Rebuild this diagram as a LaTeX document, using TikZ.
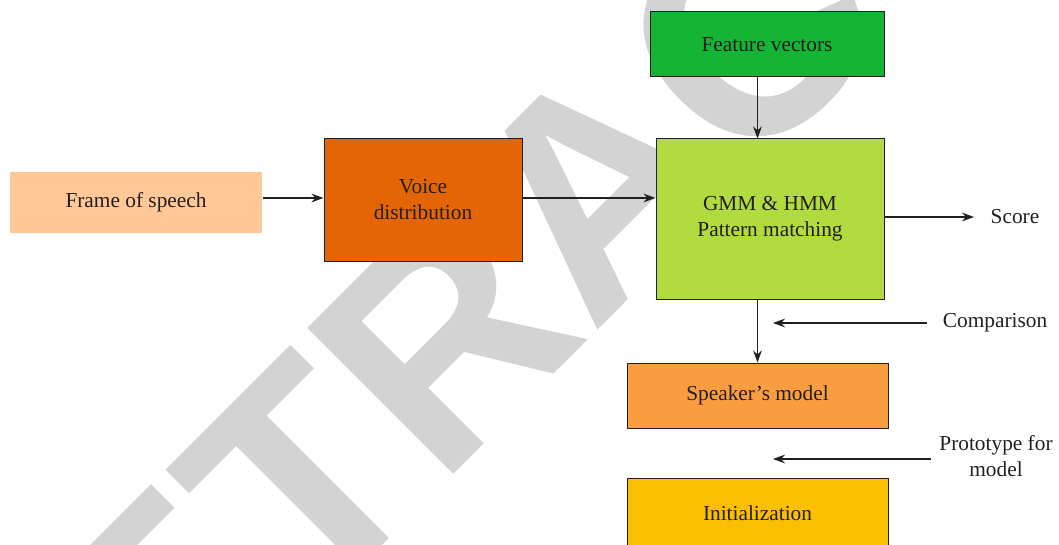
\documentclass[tikz,border=0pt]{standalone}
\usepackage{fontspec}
\setmainfont{Liberation Serif}
\newfontfamily\markfont{Liberation Sans}
\usetikzlibrary{arrows.meta}
\definecolor{framecol}{RGB}{255,200,150}
\definecolor{voicecol}{RGB}{227,101,4}
\definecolor{featcol}{RGB}{20,180,53}
\definecolor{gmmcol}{RGB}{178,219,63}
\definecolor{spkcol}{RGB}{250,157,65}
\definecolor{initcol}{RGB}{250,192,0}
\definecolor{markcol}{RGB}{211,211,211}
\definecolor{inkcol}{RGB}{35,31,32}

\begin{document}
\begin{tikzpicture}[x=0.75pt,y=-0.75pt,font=\fontsize{16}{19.5}\selectfont,
  box/.style={rectangle,draw=inkcol,line width=0.75pt,align=center,text=inkcol,inner sep=0pt},
  lbl/.style={align=center,text=inkcol},
  link/.style={->,draw=inkcol,line width=0.9pt},
  >={Stealth[length=9pt,width=6.5pt]}]
\useasboundingbox (0,0) rectangle (1059,545);
%Watermark
\begin{scope}
\clip (0,0) rectangle (1059,545);
\node at (15,913) [anchor=base west,rotate=45,inner sep=0pt,text=markcol,font=\markfont\bfseries\fontsize{225}{225}\selectfont] (Mark) {RETRACTED};
\end{scope}
%Boxes
\node at (136,202.5) [box,draw=none,fill=framecol,minimum width=189pt,minimum height=45.75pt] (Frame) {Frame of speech};
\node at (423,200) [box,fill=voicecol,minimum width=148.5pt,minimum height=91.5pt] (Voice) {Voice\\distribution};
\node at (767,44.5) [box,fill=featcol,minimum width=175.5pt,minimum height=48.75pt] (Feat) {Feature vectors};
\node at (770,219) [box,fill=gmmcol,minimum width=171pt,minimum height=120pt] (GMM) {GMM \& HMM\\Pattern matching};
\node at (757.5,395.5) [box,fill=spkcol,minimum width=195.75pt,minimum height=48.75pt] (Spk) {Speaker's model};
\node at (757.5,513) [box,fill=initcol,minimum width=195.75pt,minimum height=52.5pt] (Init) {Initialization};
%Labels
\node at (1015,217) [lbl] (Score) {Score};
\node at (995,323) [lbl] (Comp) {Comparison};
\node at (996,456) [lbl] (Proto) {Prototype for\\model};
\coordinate (Join) at (0,198);
\coordinate (CompEnd) at (773,323);
\coordinate (ProtoEnd) at (773,459);
%connections
\draw [link] (Frame.east |- Join) -- (Voice.west |- Join);
\draw [link] (Voice.east |- Join) -- (GMM.west |- Join);
\draw [link] (Feat.south -| Spk.north) -- (GMM.north -| Spk.north);
\draw [link] (GMM.south -| Spk.north) -- (Spk.north);
\draw [link] (GMM.east |- Score) -- (Score.west) [shorten >=9pt];
\draw [link] (Comp.west) -- (CompEnd) [shorten <=8pt];
\draw [link] (Proto.west |- ProtoEnd) -- (ProtoEnd) [shorten <=3pt];
\end{tikzpicture}
\end{document}
